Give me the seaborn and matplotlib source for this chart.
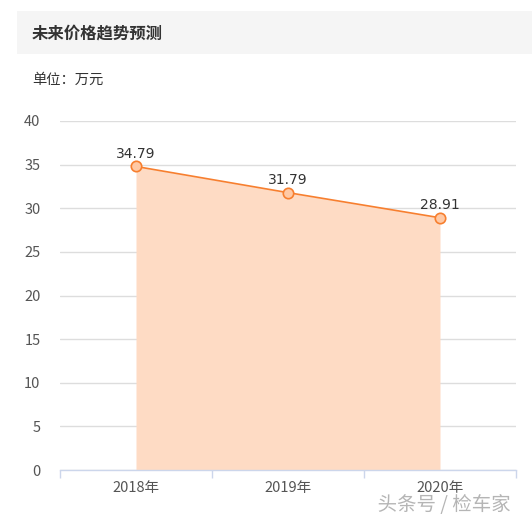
import matplotlib
matplotlib.use("Agg")
import matplotlib.pyplot as plt
import matplotlib.patches as patches
import matplotlib.patheffects as pe
import seaborn as sns
import pandas as pd
import numpy as np

years = ["2018年", "2019年", "2020年"]
prices = [34.79, 31.79, 28.91]
yticks = [0, 5, 10, 15, 20, 25, 30, 35, 40]

sns.set_theme(style="white")
plt.rcParams['font.family'] = ['Noto Sans CJK SC', 'DejaVu Sans']

W, H = 532, 522
fig = plt.figure(figsize=(W / 100, H / 100), dpi=100)
fig.patch.set_facecolor("white")

# header band
fig.patches.append(patches.Rectangle((17 / W, 1 - 54 / H), (W - 17) / W, 43 / H,
                                     transform=fig.transFigure, facecolor="#f5f5f5",
                                     edgecolor="none", zorder=0))
fig.text(32 / W, 1 - 33 / H, "未来价格趋势预测", fontsize=11.8, fontweight="bold",
         color="#333333", va="center", ha="left")
fig.text(32 / W, 1 - 80 / H, "单位：万元", fontsize=10.3, color="#333333",
         va="center", ha="left")

ax = fig.add_axes([60 / W, 52 / H, (516 - 60) / W, (470 - 121) / H])
df = pd.DataFrame({"year": years, "price": prices, "x": np.arange(len(years))})

ax.fill_between(df["x"], 0, df["price"], color="#fedbc4", linewidth=0, zorder=1)
sns.lineplot(data=df, x="x", y="price", ax=ax, color="#f77f2f", linewidth=1.2,
             marker="o", markersize=7.5, markerfacecolor="#ffc9a5",
             markeredgecolor="#f77f2f", markeredgewidth=1.2, zorder=3)

for xi, v in zip(df["x"], df["price"]):
    ax.annotate(f"{v:.2f}", (xi, v), xytext=(0, 4), textcoords="offset points",
                ha="center", va="bottom", fontsize=10, color="#333333",
                family="DejaVu Sans", zorder=4)

ax.set_xlim(-0.5, len(years) - 0.5)
ax.set_ylim(0, 40)
ax.set_yticks(yticks)
ax.set_yticklabels([str(t) for t in yticks])
ax.set_xticks(df["x"])
ax.set_xticklabels(years)
ax.set_xticks(np.arange(-0.5, len(years)), minor=True)
ax.set_xlabel("")
ax.set_ylabel("")

ax.grid(axis="y", color="#dddddd", linewidth=1)
ax.set_axisbelow(True)
for s in ["top", "right", "left"]:
    ax.spines[s].set_visible(False)
ax.spines["bottom"].set_color("#ccd6eb")
ax.spines["bottom"].set_linewidth(1)
ax.spines["bottom"].set_zorder(5)

ax.tick_params(axis="y", length=0, pad=14, labelsize=10.5, labelcolor="#555555")
ax.tick_params(axis="x", which="major", length=0, pad=8, labelsize=10.5, labelcolor="#555555")
ax.tick_params(axis="x", which="minor", length=6, width=1, color="#ccd6eb", bottom=True)
for lab in ax.get_yticklabels():
    lab.set_ha("right")

fig.text(511 / W, 1 - 505 / H, "头条号 / 检车家", fontsize=14, color="#b5b5b5",
         ha="right", va="center",
         path_effects=[pe.withStroke(linewidth=2, foreground="white")])

fig.savefig("out.png", dpi=100, facecolor="white")
